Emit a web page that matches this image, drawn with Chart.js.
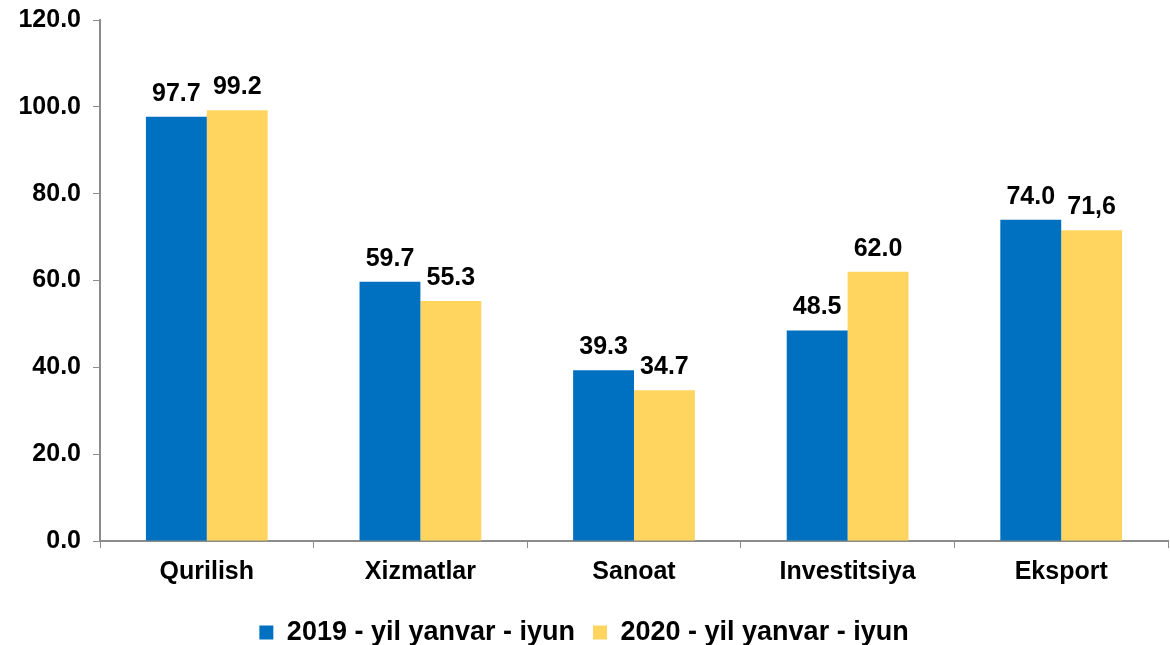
<!DOCTYPE html>
<html>
<head>
<meta charset="utf-8">
<script src="https://cdn.jsdelivr.net/npm/chart.js@4"></script>
<style>
  html, body { margin: 0; padding: 0; background: #fff; }
  #wrap { width: 1170px; height: 645px; position: relative; }
</style>
</head>
<body>
<div id="wrap"><canvas id="chart"></canvas></div>
<script>
// Ma'lumotlar
const categories = ["Qurilish", "Xizmatlar", "Sanoat", "Investitsiya", "Eksport"];
const seriesNames = ["2019 - yil yanvar - iyun", "2020 - yil yanvar - iyun"];
const values2019 = [97.7, 59.7, 39.3, 48.5, 74.0];
const values2020 = [99.2, 55.3, 34.7, 62.0, 71.6];
const labels2019 = ["97.7", "59.7", "39.3", "48.5", "74.0"];
const labels2020 = ["99.2", "55.3", "34.7", "62.0", "71,6"];

const FONT = "'Liberation Sans', Arial, sans-serif";
const axisColor = "#8c8c8c";

// Yozuvlar ustunlar ustida
const valueLabels = {
    id: "valueLabels",
    afterDatasetsDraw(chart) {
        const ctx = chart.ctx;
        const texts = [labels2019, labels2020];
        ctx.save();
        ctx.font = "bold 25px " + FONT;
        ctx.fillStyle = "#000";
        ctx.textAlign = "center";
        ctx.textBaseline = "alphabetic";
        chart.data.datasets.forEach((ds, i) => {
            chart.getDatasetMeta(i).data.forEach((bar, j) => {
                ctx.fillText(texts[i][j], bar.x, bar.y - 16);
            });
        });
        ctx.restore();
    }
};

const ctx = document.getElementById("chart").getContext("2d");
new Chart(ctx, {
    type: "bar",
    data: {
        labels: categories,
        datasets: [
            { label: seriesNames[0], data: values2019, backgroundColor: "#0070C0" },
            { label: seriesNames[1], data: values2020, backgroundColor: "#FFD55F" }
        ]
    },
    options: {
        responsive: true,
        maintainAspectRatio: false,
        animation: false,
        layout: { padding: { top: 0, right: 2, left: 0, bottom: -11 } },
        datasets: { bar: { barPercentage: 1, categoryPercentage: 0.57 } },
        plugins: {
            tooltip: { enabled: false },
            legend: {
                position: "bottom",
                labels: {
                    color: "#000",
                    font: { family: FONT, size: 27, weight: "bold" },
                    boxWidth: 14,
                    boxHeight: 14,
                    padding: 18
                }
            }
        },
        scales: {
            x: {
                grid: {
                    display: true,
                    drawOnChartArea: false,
                    drawTicks: true,
                    tickLength: 7,
                    color: axisColor
                },
                border: { color: axisColor, width: 2 },
                ticks: {
                    color: "#000",
                    font: { family: FONT, size: 25, weight: "bold" },
                    padding: 9
                },
                afterFit(scale) { scale.height = 60; }
            },
            y: {
                min: 0,
                max: 120,
                grid: {
                    display: true,
                    drawOnChartArea: false,
                    drawTicks: true,
                    tickLength: 7,
                    color: axisColor
                },
                border: { color: axisColor, width: 2 },
                ticks: {
                    stepSize: 20,
                    color: "#000",
                    font: { family: FONT, size: 25, weight: "bold" },
                    padding: 12,
                    callback: v => v.toFixed(1)
                },
                afterFit(scale) { scale.width = 100; scale.paddingTop = 20; }
            }
        }
    },
    plugins: [valueLabels]
});
</script>
</body>
</html>
